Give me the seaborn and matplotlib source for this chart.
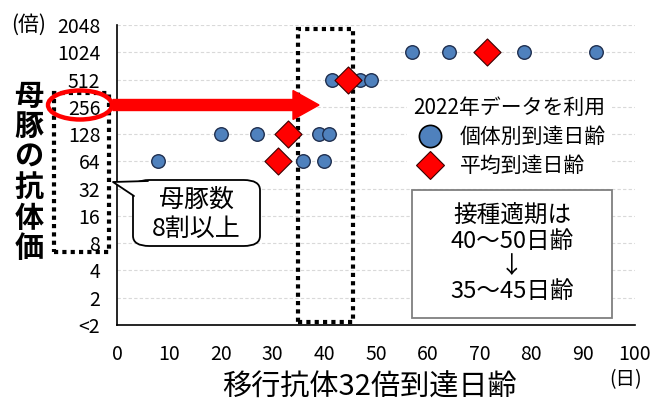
import numpy as np
import pandas as pd
import seaborn as sns
import matplotlib.pyplot as plt
from matplotlib.patches import Ellipse, FancyArrow, Rectangle, FancyBboxPatch, Polygon
from matplotlib.lines import Line2D
from matplotlib import transforms

# data
indiv_day = [8, 20, 27, 36, 40, 39, 41, 41.5, 47, 49, 57, 64, 78.5, 92.5]
indiv_titer = [64, 128, 128, 64, 64, 128, 128, 512, 512, 512, 1024, 1024, 1024, 1024]
mean_day = [31, 33, 44.5, 71.5]
mean_titer = [64, 128, 512, 1024]

y_ticks = [1, 2, 4, 8, 16, 32, 64, 128, 256, 512, 1024, 2048]
y_labels = ['<2', '2', '4', '8', '16', '32', '64', '128', '256', '512', '1024', '2048']
x_ticks = list(range(0, 101, 10))

indiv_label = '個体別到達日齢'
mean_label = '平均到達日齢'
legend_title = '2022年データを利用'
callout_text = '母豚数\n8割以上'
box_text = '接種適期は\n40〜50日齢\n↓\n35〜45日齢'

sns.set_style('white')
plt.rcParams['font.family'] = ['Noto Sans CJK JP', 'DejaVu Sans']
plt.rcParams['text.color'] = 'black'
plt.rcParams['xtick.color'] = 'black'
plt.rcParams['ytick.color'] = 'black'

W, H = 654, 405
fig = plt.figure(figsize=(W / 100, H / 100), dpi=100)
ax = fig.add_axes([117 / W, 1 - 325 / H, 518 / W, 300 / H])


def px(x, y):
    # figure pixel (from top-left) -> figure fraction
    return (x / W, 1 - y / H)


indiv_df = pd.DataFrame({'day': indiv_day, 'titer': indiv_titer})
mean_df = pd.DataFrame({'day': mean_day, 'titer': mean_titer})

# grid lines
for t in y_ticks:
    ax.axhline(t, color='#D9D9D9', lw=0.8, ls=(0, (3, 2)), zorder=0)

sns.scatterplot(data=indiv_df, x='day', y='titer', ax=ax, s=95, color='#4F81BD',
                edgecolor='#1F2F4F', linewidth=1.0, zorder=3, legend=False)
sns.scatterplot(data=mean_df, x='day', y='titer', ax=ax, marker='D', s=190, color='#FF0000',
                edgecolor='#3A0000', linewidth=0.8, zorder=4, legend=False)

ax.set_yscale('log', base=2)
ax.set_ylim(1, 2048)
ax.set_xlim(0, 100)
ax.set_yticks(y_ticks)
ax.set_yticklabels(y_labels)
ax.minorticks_off()
ax.set_xticks(x_ticks)
ax.tick_params(axis='y', length=0, pad=12, labelsize=14, labelcolor='black')
ax.tick_params(axis='x', length=0, pad=14, labelsize=14, labelcolor='black')
ax.set_xlabel('')
ax.set_ylabel('')
for side in ['top', 'right']:
    ax.spines[side].set_visible(False)
for side in ['left', 'bottom']:
    ax.spines[side].set_color('black')
    ax.spines[side].set_linewidth(1.2)

# legend
handles = [
    Line2D([], [], ls='none', marker='o', ms=16, mfc='#4F81BD', mec='black', mew=1.2),
    Line2D([], [], ls='none', marker='D', ms=14, mfc='#FF0000', mec='#3A0000', mew=0.8),
]
leg = ax.legend(handles, [indiv_label, mean_label], title=legend_title, alignment='left',
                loc='upper left', bbox_to_anchor=px(397, 80), bbox_transform=fig.transFigure,
                fontsize=15, title_fontsize=15, frameon=True, facecolor='white', edgecolor='none',
                framealpha=1, fancybox=False, handletextpad=0.6, labelspacing=0.35,
                borderpad=0.3, handlelength=1.6)
leg.set_zorder(5)

# box on the lower right
box = Rectangle(px(412, 318), 200 / W, 128 / H, transform=fig.transFigure,
                facecolor='white', edgecolor='#7F7F7F', lw=1.3, zorder=5)
fig.add_artist(box)
fig.text(*px(512, 254), box_text, ha='center', va='center', fontsize=17,
         linespacing=1.12, zorder=6)

# dotted rectangle in the plot (35-45 days)
trans = transforms.blended_transform_factory(ax.transData, ax.transAxes)
ax.add_patch(Rectangle((35, 0.01), 10.5, 0.977, transform=trans, fill=False,
                       edgecolor='black', lw=3, ls=(0, (1, 1)), zorder=2, clip_on=False))

# dotted rectangle around y tick labels
fig.add_artist(Rectangle(px(54, 252), 55 / W, 159 / H, transform=fig.transFigure, fill=False,
                         edgecolor='black', lw=3, ls=(0, (1, 1)), zorder=2))

# red ellipse around 256 and red arrow
fig.add_artist(Ellipse(px(80, 105), 64 / W, 29 / H, transform=fig.transFigure, fill=False,
                       edgecolor='#FF0000', lw=3.2, zorder=7))
fig.add_artist(FancyArrow(*px(113, 105), 206 / W, 0, width=11 / H, head_width=29 / H,
                          head_length=26 / W, length_includes_head=True,
                          transform=fig.transFigure, color='#FF0000', zorder=7))

# callout bubble
bubble = FancyBboxPatch(px(133, 246), 127 / W, 66 / H, boxstyle='round,pad=0,rounding_size=0.025',
                        transform=fig.transFigure, facecolor='white', edgecolor='black',
                        lw=1.3, zorder=6)
fig.add_artist(bubble)
tail = [px(134, 196), px(113, 182), px(148, 181)]
fig.add_artist(Polygon(tail, closed=False, transform=fig.transFigure, facecolor='white',
                       edgecolor='none', zorder=6.5))
fig.add_artist(Line2D([tail[0][0], tail[1][0], tail[2][0]], [tail[0][1], tail[1][1], tail[2][1]],
                      transform=fig.transFigure, color='black', lw=1.3, zorder=6.6))
fig.text(*px(196, 214), callout_text, ha='center', va='center', fontsize=18,
         linespacing=1.15, zorder=7)

# axis titles
fig.text(*px(29, 172), '母\n豚\nの\n抗\n体\n価', ha='center', va='center', fontsize=21,
         fontweight='bold', linespacing=1.02)
fig.text(*px(29, 25), '(倍)', ha='center', va='center', fontsize=15)
fig.text(*px(369, 388), '移行抗体32倍到達日齢', ha='center', va='center', fontsize=21)
fig.text(*px(626, 380), '(日)', ha='center', va='center', fontsize=14)

fig.savefig('out.png', dpi=100)
